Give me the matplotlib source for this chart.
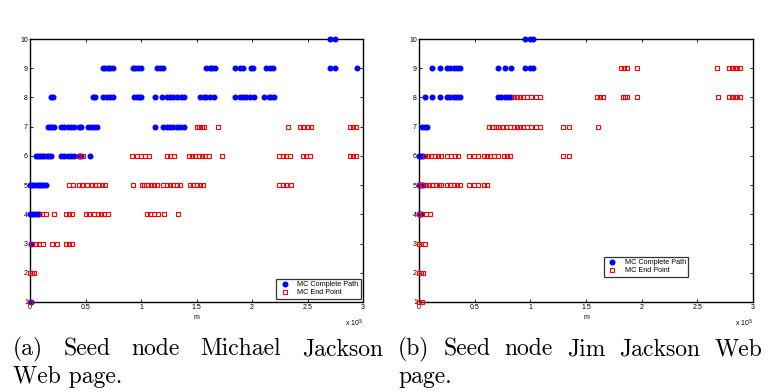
import matplotlib
matplotlib.use("Agg")
import matplotlib.pyplot as plt
from matplotlib.lines import Line2D

# x values are m in units of 10^5, keyed by y level
a_path = {
    10: [2.70, 2.75],
    9: [0.66, 0.68, 0.70, 0.72, 0.75, 0.93, 0.95, 0.97, 1.00, 1.14, 1.17, 1.20,
        1.59, 1.62, 1.64, 1.67, 1.85, 1.89, 1.92, 1.99, 2.01, 2.13, 2.16, 2.19,
        2.70, 2.75, 2.95],
    8: [0.19, 0.21, 0.57, 0.59, 0.66, 0.69, 0.72, 0.75, 0.94, 0.96, 0.98, 1.00,
        1.13, 1.19, 1.23, 1.26, 1.29, 1.32, 1.36, 1.39, 1.53, 1.57, 1.59, 1.62,
        1.66, 1.85, 1.89, 1.92, 1.95, 1.98, 2.02, 2.11, 2.15, 2.17, 2.20],
    7: [0.16, 0.18, 0.20, 0.22, 0.28, 0.31, 0.34, 0.37, 0.40, 0.44, 0.46, 0.52,
        0.55, 0.58, 0.60, 1.13, 1.20, 1.23, 1.26, 1.29, 1.32, 1.35, 1.39],
    6: [0.05, 0.07, 0.09, 0.11, 0.13, 0.15, 0.17, 0.19, 0.28, 0.31, 0.34, 0.37,
        0.40, 0.44, 0.46, 0.54],
    5: [0.00, 0.02, 0.04, 0.06, 0.08, 0.10, 0.12, 0.14],
    4: [0.00, 0.02, 0.04, 0.06, 0.08],
    3: [0.01],
    1: [0.005],
}
a_end = {
    7: [1.50, 1.52, 1.55, 1.57, 1.69, 2.32, 2.43, 2.46, 2.50, 2.53, 2.88, 2.91, 2.94],
    6: [0.44, 0.48, 0.92, 0.96, 1.00, 1.04, 1.07, 1.23, 1.26, 1.30, 1.43, 1.46,
        1.49, 1.52, 1.55, 1.58, 1.61, 1.73, 2.24, 2.28, 2.31, 2.34, 2.46, 2.49,
        2.52, 2.88, 2.91, 2.94],
    5: [0.35, 0.39, 0.44, 0.47, 0.51, 0.56, 0.59, 0.62, 0.65, 0.68, 0.93, 1.01,
        1.03, 1.06, 1.09, 1.12, 1.14, 1.20, 1.23, 1.26, 1.29, 1.32, 1.35, 1.44,
        1.47, 1.50, 1.53, 1.56, 2.24, 2.28, 2.31, 2.35],
    4: [0.11, 0.14, 0.22, 0.32, 0.35, 0.38, 0.50, 0.53, 0.58, 0.61, 0.64, 0.67,
        0.70, 1.05, 1.08, 1.12, 1.15, 1.21, 1.33],
    3: [0.02, 0.05, 0.08, 0.12, 0.20, 0.24, 0.32, 0.35, 0.38],
    2: [0.00, 0.02, 0.04],
    1: [0.00],
}
b_path = {
    10: [0.95, 1.00, 1.02],
    9: [0.12, 0.19, 0.25, 0.28, 0.31, 0.34, 0.37, 0.71, 0.77, 0.83, 0.95, 1.00, 1.02],
    8: [0.05, 0.12, 0.19, 0.25, 0.28, 0.31, 0.34, 0.37, 0.71, 0.74, 0.77, 0.80, 0.83],
    7: [0.03, 0.05, 0.07],
    6: [0.00, 0.02, 0.04],
    5: [0.00, 0.02, 0.04],
    4: [0.00, 0.02],
}
b_end = {
    9: [1.81, 1.84, 1.87, 1.96, 2.68, 2.78, 2.81, 2.84, 2.86, 2.88],
    8: [0.85, 0.88, 0.91, 0.93, 0.97, 1.01, 1.05, 1.09, 1.60, 1.63, 1.65, 1.83,
        1.85, 1.87, 1.96, 2.69, 2.78, 2.81, 2.84, 2.86, 2.88],
    7: [0.63, 0.66, 0.69, 0.71, 0.75, 0.78, 0.82, 0.85, 0.88, 0.91, 0.93, 0.97,
        1.01, 1.05, 1.09, 1.29, 1.35, 1.61],
    6: [0.05, 0.08, 0.11, 0.14, 0.17, 0.20, 0.25, 0.29, 0.32, 0.35, 0.45, 0.49,
        0.53, 0.58, 0.61, 0.64, 0.67, 0.71, 0.76, 0.79, 0.82, 1.29, 1.35],
    5: [0.00, 0.03, 0.06, 0.09, 0.12, 0.15, 0.18, 0.20, 0.25, 0.28, 0.31, 0.34,
        0.37, 0.45, 0.49, 0.53, 0.58, 0.61],
    4: [0.00, 0.03, 0.06, 0.10],
    3: [0.00, 0.02, 0.05],
    2: [0.00, 0.02, 0.04],
    1: [0.00, 0.03],
}

x_ticks = [0, 0.5, 1, 1.5, 2, 2.5, 3]
x_tick_labels = ["0", "0.5", "1", "1.5", "2", "2.5", "3"]
y_ticks = list(range(1, 11))
legend_labels = ["MC Complete Path", "MC End Point"]
captions = [
    (["(a)", "Seed", "node", "Michael", "Jackson"], "Web page."),
    (["(b)", "Seed", "node", "Jim", "Jackson", "Web"], "page."),
]

W, H = 772, 392
fig = plt.figure(figsize=(W / 100, H / 100), dpi=100)
SANS = "Liberation Sans"
BLUE, RED = "#0000ff", "#ff0000"


def flat(d):
    xs, ys = [], []
    for lvl, vals in d.items():
        xs += vals
        ys += [lvl] * len(vals)
    return xs, ys


panels = [
    (a_path, a_end, (30, 363), ("lower right", (360.7, 299))),
    (b_path, b_end, (419, 753), ("lower left", (604, 277))),
]
top_px, bot_px = 39, 302
for path, end, (xl, xr), (lloc, (lx, ly)) in panels:
    ax = fig.add_axes([xl / W, 1 - bot_px / H, (xr - xl) / W, (bot_px - top_px) / H])
    px, py = flat(path)
    ex, ey = flat(end)
    ax.plot(px, py, ls="none", marker="o", ms=3.3, color=BLUE,
            mec=BLUE, clip_on=False, zorder=3)
    ax.plot(ex, ey, ls="none", marker="s", ms=3.1, mfc="none", mec=RED,
            mew=0.8, clip_on=False, zorder=4)
    ax.set_xlim(0, 3)
    ax.set_ylim(1, 10)
    ax.set_xticks(x_ticks)
    ax.set_xticklabels(x_tick_labels)
    ax.set_yticks(y_ticks)
    ax.tick_params(direction="in", length=2.2, width=0.6, top=True, right=True,
                   labelsize=5, pad=1.5, colors="black")
    for lab in ax.get_xticklabels() + ax.get_yticklabels():
        lab.set_fontfamily(SANS)
    for s in ax.spines.values():
        s.set_linewidth(1.0)
    ax.set_xlabel("m", fontsize=5, family=SANS, labelpad=2)
    ax.text(1.0, -0.058, r"x 10$^5$", transform=ax.transAxes, ha="right",
            va="top", fontsize=5, family=SANS)
    handles = [
        Line2D([], [], ls="none", marker="o", ms=3.3, color=BLUE),
        Line2D([], [], ls="none", marker="s", ms=3.1, mfc="none",
               mec=RED, mew=0.8),
    ]
    leg = fig.legend(handles, legend_labels, loc=lloc,
                     bbox_to_anchor=(lx / W, 1 - ly / H),
                     prop={"family": SANS, "size": 5.2}, frameon=True,
                     fancybox=False, edgecolor="black", borderpad=0.35,
                     labelspacing=0.15, handlelength=1.6, handletextpad=0.9,
                     borderaxespad=0)
    leg.get_frame().set_linewidth(0.9)

# captions (justified first line)
cap_pos = [((12.7, 383), 355, 383), ((398, 762), 355, 383)]
fig.canvas.draw()
renderer = fig.canvas.get_renderer()
CAPF = dict(fontsize=17, family="cmr10", color="black")
for (words, line2), ((x0, x1), base1, base2) in zip(captions, cap_pos):
    texts = [fig.text(0, 1 - base1 / H, w, ha="left", va="baseline", **CAPF)
             for w in words]
    widths = [t.get_window_extent(renderer).width for t in texts]
    gap = (x1 - x0 - sum(widths)) / (len(words) - 1)
    x = x0
    for t, w in zip(texts, widths):
        t.set_x(x / W)
        x += w + gap
    fig.text(x0 / W, 1 - base2 / H, line2, ha="left", va="baseline", **CAPF)

fig.savefig("out.png", dpi=100)
